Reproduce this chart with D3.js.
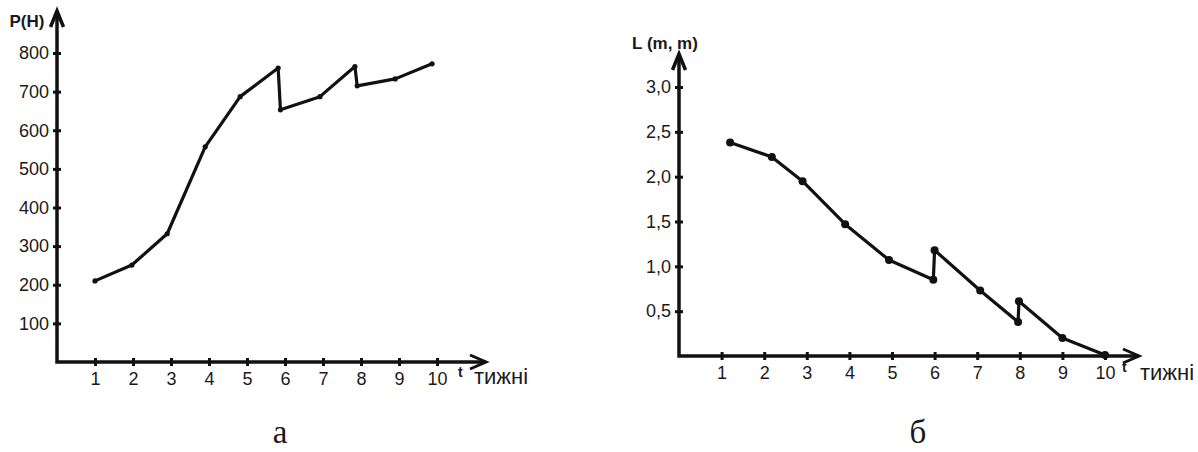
<!DOCTYPE html>
<html><head><meta charset="utf-8">
<script src="https://cdn.jsdelivr.net/npm/d3@7"></script>
<style>
html,body{margin:0;padding:0;background:#fff;}
svg{display:block;}
text{font-family:"Liberation Sans",Arial,sans-serif;fill:#1a1a1a;}
</style></head><body>
<svg id="c" width="1198" height="452"></svg>
<script>
// ---- Data ----
// chart а: force P (H) vs weeks t
const weeksA = [1, 1.97, 2.9, 3.9, 4.82, 5.82, 5.88, 6.92, 7.84, 7.9, 8.9, 9.87];
const forceA = [210, 251, 332, 557, 687, 761, 653, 687, 765, 715, 733, 772];
const ticksXA = [1,2,3,4,5,6,7,8,9,10];
const ticksYA = [100,200,300,400,500,600,700,800];

// chart б: length L (m, m) vs weeks t
const weeksB = [1.2, 2.18, 2.9, 3.9, 4.93, 5.97, 6.0, 7.07, 7.96, 7.98, 9.0, 10.0];
const lenB   = [2.38, 2.22, 1.95, 1.47, 1.07, 0.85, 1.18, 0.73, 0.38, 0.61, 0.2, 0.01];
const ticksXB = [1,2,3,4,5,6,7,8,9,10];
const ticksYB = [0.5,1.0,1.5,2.0,2.5,3.0];

const svg = d3.select("#c");

function drawPanel(cfg){
  const g = svg.append("g");
  const x = d3.scaleLinear().domain([0,10]).range([cfg.x0, cfg.x10]);
  const y = d3.scaleLinear().domain(cfg.ydom).range([cfg.y0, cfg.ytop]);
  const col = "#111";
  // x axis
  const ax = g.append("g").attr("transform",`translate(0,${cfg.y0})`)
    .call(d3.axisBottom(x).tickValues(cfg.tx).tickSize(0).tickPadding(cfg.xpad).tickFormat(d=>d));
  ax.select(".domain").remove();
  ax.selectAll("text").style("font-size",cfg.fs+"px").attr("fill","#1a1a1a");
  ax.selectAll(".tick").append("line").attr("y1",-cfg.tk).attr("y2",cfg.tk)
    .attr("stroke",col).attr("stroke-width",3);
  // y axis
  const ay = g.append("g").attr("transform",`translate(${cfg.x0},0)`)
    .call(d3.axisLeft(y).tickValues(cfg.ty).tickSize(0).tickPadding(cfg.ypad).tickFormat(cfg.yfmt));
  ay.select(".domain").remove();
  ay.selectAll("text").style("font-size",cfg.fs+"px").attr("fill","#1a1a1a");
  ay.selectAll(".tick").append("line").attr("x1",-cfg.tk).attr("x2",cfg.tk)
    .attr("stroke",col).attr("stroke-width",3);
  // axis lines with arrows
  g.append("path").attr("d",`M${cfg.x0},${cfg.yArrow} L${cfg.x0},${cfg.y0} L${cfg.xArrow},${cfg.y0}`)
    .attr("fill","none").attr("stroke",col).attr("stroke-width",3.5);
  g.append("path").attr("d",`M${cfg.x0-6.5},${cfg.yArrow+16} L${cfg.x0},${cfg.yArrow} L${cfg.x0+6.5},${cfg.yArrow+16}`)
    .attr("fill","none").attr("stroke",col).attr("stroke-width",3.5);
  g.append("path").attr("d",`M${cfg.xArrow-16},${cfg.y0-7} L${cfg.xArrow},${cfg.y0} L${cfg.xArrow-16},${cfg.y0+7}`)
    .attr("fill","none").attr("stroke",col).attr("stroke-width",3);
  // data line
  const pts = cfg.xs.map((t,i)=>[t,cfg.ys[i]]);
  g.append("path").datum(pts)
    .attr("d",d3.line().x(d=>x(d[0])).y(d=>y(d[1])))
    .attr("fill","none").attr("stroke",col).attr("stroke-width",3.2).attr("stroke-linejoin","round");
  g.selectAll("circle.p").data(pts).join("circle")
    .attr("cx",d=>x(d[0])).attr("cy",d=>y(d[1])).attr("r",cfg.r).attr("fill",col);
  // labels
  g.append("text").attr("x",cfg.titleX).attr("y",cfg.titleY).attr("text-anchor","middle")
    .style("font-size","17px").style("font-weight","bold").text(cfg.title);
  g.append("text").attr("x",cfg.tX).attr("y",cfg.tY).style("font-size","14px").style("font-weight","bold").text("t");
  g.append("text").attr("x",cfg.wX).attr("y",cfg.wY).style("font-size","22px").text("тижні");
  g.append("text").attr("x",cfg.capX).attr("y",443).attr("text-anchor","middle")
    .style("font-family","'Liberation Serif','Times New Roman',serif").style("font-size","33px").text(cfg.cap);
}

drawPanel({x0:57, x10:437, y0:362, ytop:53, ydom:[0,800], tx:ticksXA, ty:ticksYA,
  yfmt:d=>d, fs:18, xpad:10, ypad:8, tk:4, yArrow:11, xArrow:486,
  xs:weeksA, ys:forceA, r:2.6, title:"P(H)", titleX:27, titleY:27,
  tX:458, tY:377, wX:474, wY:384, capX:280, cap:"а"});

drawPanel({x0:679, x10:1105, y0:356, ytop:87, ydom:[0,3], tx:ticksXB, ty:ticksYB,
  yfmt:d=>d3.format(".1f")(d).replace(".",","), fs:18, xpad:10, ypad:8, tk:4, yArrow:54, xArrow:1139,
  xs:weeksB, ys:lenB, r:4, title:"L (m, m)", titleX:665, titleY:49,
  tX:1122, tY:372, wX:1140, wY:380, capX:918, cap:"б"});
</script>
</body></html>
